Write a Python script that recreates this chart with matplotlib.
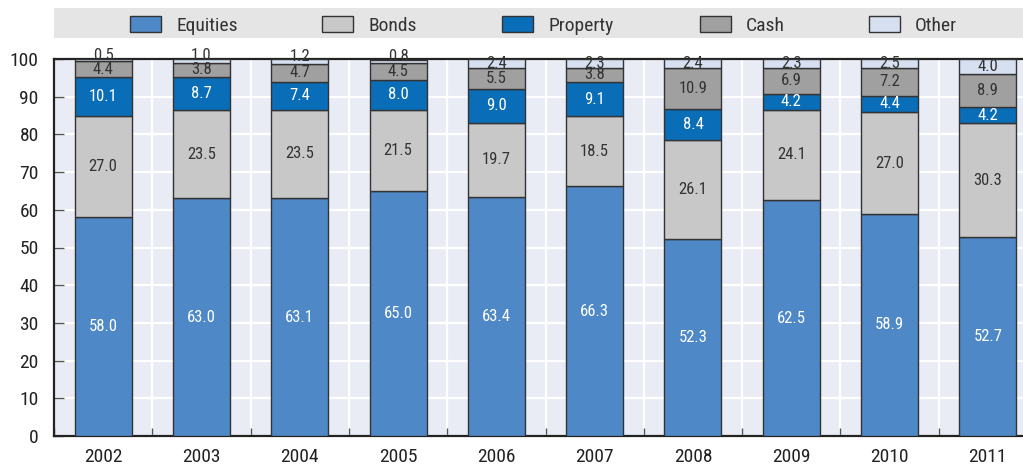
import matplotlib
matplotlib.use("Agg")
import matplotlib.pyplot as plt
import numpy as np
from matplotlib.patches import Rectangle
from matplotlib import font_manager

names = {f.name for f in font_manager.fontManager.ttflist}
cands = ['Roboto Condensed', 'Liberation Sans Narrow', 'Open Sans Condensed', 'Roboto']
fam = [c for c in cands if c in names][:1] + ['DejaVu Sans']
plt.rcParams['font.family'] = fam

years = ['2002', '2003', '2004', '2005', '2006', '2007', '2008', '2009', '2010', '2011']
series_names = ['Equities', 'Bonds', 'Property', 'Cash', 'Other']
equities = [58.0, 63.0, 63.1, 65.0, 63.4, 66.3, 52.3, 62.5, 58.9, 52.7]
bonds = [27.0, 23.5, 23.5, 21.5, 19.7, 18.5, 26.1, 24.1, 27.0, 30.3]
prop = [10.1, 8.7, 7.4, 8.0, 9.0, 9.1, 8.4, 4.2, 4.4, 4.2]
cash = [4.4, 3.8, 4.7, 4.5, 5.5, 3.8, 10.9, 6.9, 7.2, 8.9]
other = [0.5, 1.0, 1.2, 0.8, 2.4, 2.3, 2.4, 2.3, 2.5, 4.0]
yticks = [0, 10, 20, 30, 40, 50, 60, 70, 80, 90, 100]

colors = ['#4E88C7', '#C8C8C8', '#0A6DB7', '#A0A0A0', '#D6E0F1']
text_colors = ['white', '#333333', 'white', '#333333', '#333333']

W, H = 1023, 468
fig = plt.figure(figsize=(W / 100, H / 100), dpi=100)
left, right, bottom, top = 54, 1037, 436, 59
ax = fig.add_axes([left / W, 1 - bottom / H, (right - left) / W, (bottom - top) / H])
ax.set_facecolor('#E9ECF5')

x = np.arange(len(years))
data = [equities, bonds, prop, cash, other]
base = np.zeros(len(years))
for vals, c, tc, name in zip(data, colors, text_colors, series_names):
    v = np.array(vals)
    ax.bar(x, v, width=0.58, bottom=base, color=c, edgecolor='#333333',
           linewidth=1.0, label=name, zorder=3)
    for xi, bi, vi in zip(x, base, v):
        yc = bi + vi / 2
        if vi < 1.5:
            yc = bi + vi + 0.8
        ax.text(xi, yc, f'{vi:.1f}', ha='center', va='center',
                color=tc, fontsize=12, zorder=4, clip_on=False)
    base = base + v

ax.set_xlim(-0.5, 9.5)
ax.set_ylim(0, 100)
ax.set_yticks(yticks)
ax.set_yticklabels([str(t) for t in yticks], fontsize=14, color='#222222')
ax.set_xticks(x)
ax.set_xticklabels(years, fontsize=14, color='#222222')
ax.set_xticks(np.arange(-0.5, 10, 1), minor=True)
ax.tick_params(axis='x', which='major', length=0, pad=9)
ax.tick_params(axis='x', which='minor', direction='in', length=6, color='#555555', width=1)
ax.tick_params(axis='y', direction='in', length=7, color='#555555', width=1, pad=11)
ax.grid(True, axis='y', color='white', linewidth=1.6, zorder=0)
ax.grid(True, axis='x', which='minor', color='white', linewidth=1.6, zorder=0)
ax.set_axisbelow(True)
for s in ['left', 'bottom', 'top']:
    ax.spines[s].set_color('#222222')
    ax.spines[s].set_linewidth(1.6)
ax.spines['right'].set_visible(False)

# legend band, drawn manually
fig.patches.append(Rectangle((54 / W, 1 - 38 / H), (W - 54) / W, 30 / H,
                             transform=fig.transFigure, facecolor='#E5E5E5',
                             edgecolor='none', zorder=0))
patch_x = [130, 322, 502, 700, 869]
for px, c, name in zip(patch_x, colors, series_names):
    fig.patches.append(Rectangle((px / W, 1 - 32 / H), 31 / W, 16 / H,
                                 transform=fig.transFigure, facecolor=c,
                                 edgecolor='#333333', linewidth=1.0, zorder=2))
    fig.text((px + 46) / W, 1 - 24 / H, name, ha='left', va='center_baseline',
             fontsize=14, color='#333333')

fig.savefig('out.png', dpi=100)
